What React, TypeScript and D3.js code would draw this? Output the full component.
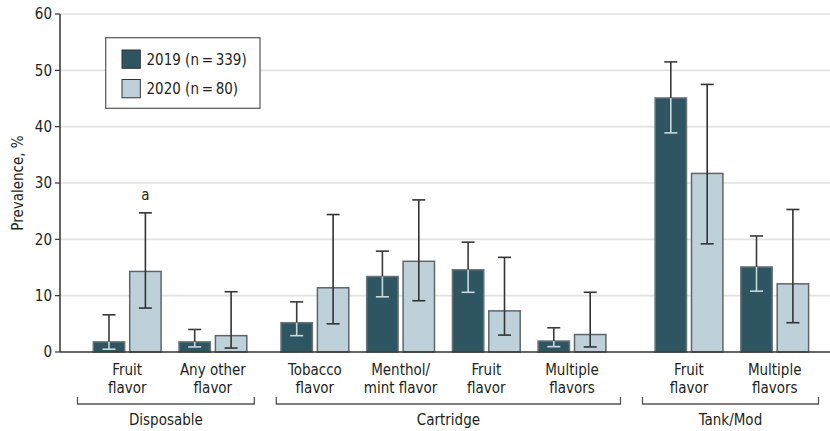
import React from "react";
import * as d3 from "d3";

// ---- Data ----
const types = ["Disposable", "Cartridge", "Tank/Mod"];
const categories = [
  ["Fruit", "flavor"],
  ["Any other", "flavor"],
  ["Tobacco", "flavor"],
  ["Menthol/", "mint flavor"],
  ["Fruit", "flavor"],
  ["Multiple", "flavors"],
  ["Fruit", "flavor"],
  ["Multiple", "flavors"],
];
const categoryType = [0, 0, 1, 1, 1, 1, 2, 2];
const series = ["2019 (n\u2009=\u2009339)", "2020 (n\u2009=\u200980)"];
const values2019 = [1.8, 1.8, 5.2, 13.4, 14.6, 1.95, 45.1, 15.1];
const lower2019 = [0.5, 0.9, 2.9, 9.8, 10.6, 0.95, 38.9, 10.8];
const upper2019 = [6.6, 4.0, 8.9, 17.9, 19.5, 4.3, 51.5, 20.6];
const values2020 = [14.3, 2.9, 11.4, 16.1, 7.3, 3.1, 31.7, 12.1];
const lower2020 = [7.8, 0.7, 5.0, 9.1, 3.0, 0.9, 19.2, 5.2];
const upper2020 = [24.7, 10.7, 24.4, 27.0, 16.8, 10.6, 47.5, 25.3];
const annotations = [null, null, null, null, null, null, null, null];
const annotations2020 = ["a", null, null, null, null, null, null, null];
const yTicks = [0, 10, 20, 30, 40, 50, 60];

// ---- Layout ----
const W = 830;
const H = 431;
const axisX = 60;
const yTop = 14;
const yBottom = 352;
const firstGroupX = 93.3;
const groupStep = 85.7;
const typeGapExtra = [0, 16.3, 47.6];
const typeRanges = [
  [66.5, 265.3],
  [265.3, 631.5],
  [631.5, 829.5],
];
const barW = 31.4;
const barGap = 5;
const capW = 13;

const DARK = "#2e5562";
const LIGHT = "#bed1da";
const FONT = "'DejaVu Sans Condensed', 'DejaVu Sans', sans-serif";
const TEXT = "#231f20";
const FS = 15;

export default function App() {
  const y = d3.scaleLinear().domain([0, 60]).range([yBottom, yTop]);
  const xIdx = d3
    .scaleLinear()
    .domain([0, 1])
    .range([firstGroupX, firstGroupX + groupStep]);
  const groupX = (i: number) => xIdx(i) + typeGapExtra[categoryType[i]];

  const seriesData = [
    { vals: values2019, lo: lower2019, hi: upper2019, fill: DARK, stroke: "#6b7478", ann: annotations },
    { vals: values2020, lo: lower2020, hi: upper2020, fill: LIGHT, stroke: "#5f6568", ann: annotations2020 },
  ];

  return (
    <svg
      width={W}
      height={H}
      style={{ display: "block", position: "absolute", left: 0, top: 0, fontStretch: "condensed" }}
      fontFamily={FONT}
    >
      <rect x={0} y={0} width={W} height={H} fill="#fff" />
      {/* gridlines */}
      {yTicks.filter((t) => t > 0).map((t) => (
        <line key={"g" + t} x1={axisX} x2={W} y1={y(t)} y2={y(t)} stroke="#e2e2e2" strokeWidth={1.6} />
      ))}
      {/* y ticks and labels */}
      {yTicks.map((t) => (
        <g key={"t" + t}>
          <line x1={axisX - 5} x2={axisX} y1={y(t)} y2={y(t)} stroke="#333" strokeWidth={1.2} />
          <text x={52} y={y(t)} dy="0.36em" textAnchor="end" fontSize={FS} fill={TEXT}>
            {t}
          </text>
        </g>
      ))}
      <text
        transform={`translate(23, ${(yTop + yBottom) / 2}) rotate(-90)`}
        textAnchor="middle"
        fontSize={FS}
        fill={TEXT}
      >
        Prevalence, %
      </text>

      {/* bars */}
      {categories.map((c, i) => (
        <g key={"c" + i}>
          {seriesData.map((s, si) => {
            const bx = groupX(i) + si * (barW + barGap);
            const cx = bx + barW / 2;
            const top = y(s.vals[i]);
            const hiY = y(s.hi[i]);
            const loY = y(s.lo[i]);
            return (
              <g key={"b" + si}>
                <rect x={bx} y={top} width={barW} height={yBottom - top} fill={s.fill} stroke={s.stroke} strokeWidth={1.5} />
                {si === 0 ? (
                  <>
                    <line x1={cx} x2={cx} y1={hiY} y2={top} stroke="#3a3a3a" strokeWidth={1.6} />
                    <line x1={cx - capW / 2} x2={cx + capW / 2} y1={hiY} y2={hiY} stroke="#3a3a3a" strokeWidth={1.6} />
                    <line x1={cx} x2={cx} y1={top} y2={loY} stroke="#c9d8de" strokeWidth={1.6} />
                    <line x1={cx - capW / 2} x2={cx + capW / 2} y1={loY} y2={loY} stroke="#c9d8de" strokeWidth={1.6} />
                  </>
                ) : (
                  <>
                    <line x1={cx} x2={cx} y1={hiY} y2={loY} stroke="#333" strokeWidth={1.6} />
                    <line x1={cx - capW / 2} x2={cx + capW / 2} y1={hiY} y2={hiY} stroke="#333" strokeWidth={1.6} />
                    <line x1={cx - capW / 2} x2={cx + capW / 2} y1={loY} y2={loY} stroke="#333" strokeWidth={1.6} />
                  </>
                )}
                {s.ann[i] && (
                  <text x={cx} y={hiY - 13} textAnchor="middle" fontSize={FS} fill={TEXT}>
                    {s.ann[i]}
                  </text>
                )}
              </g>
            );
          })}
          <text textAnchor="middle" fontSize={FS} fill={TEXT}>
            <tspan x={groupX(i) + barW + barGap / 2} y={375}>{c[0]}</tspan>
            <tspan x={groupX(i) + barW + barGap / 2} y={393}>{c[1]}</tspan>
          </text>
        </g>
      ))}

      {/* axes lines */}
      <line x1={axisX} x2={axisX} y1={yTop} y2={yBottom} stroke="#333" strokeWidth={1.5} />
      <line x1={axisX} x2={W} y1={yBottom} y2={yBottom} stroke="#333" strokeWidth={1.5} />

      {/* type brackets */}
      {types.map((t, ti) => {
        const x1 = typeRanges[ti][0] + 11;
        const x2 = typeRanges[ti][1] - 11;
        return (
          <g key={"ty" + ti}>
            <path d={`M${x1},397 V404 H${x2} V397`} fill="none" stroke="#555" strokeWidth={1.3} />
            <text x={(x1 + x2) / 2} y={425} textAnchor="middle" fontSize={FS} fill={TEXT}>
              {t}
            </text>
          </g>
        );
      })}

      {/* legend */}
      <rect x={105.7} y={37.7} width={154.3} height={70.6} fill="#fff" stroke="#555" strokeWidth={1.2} />
      {series.map((s, si) => (
        <g key={"l" + si}>
          <rect x={122} y={50 + si * 29.5} width={18.3} height={18.3} fill={seriesData[si].fill} stroke="#333" strokeWidth={1} />
          <text x={146.5} y={59.2 + si * 29.5} dy="0.36em" fontSize={FS} fill={TEXT}>
            {s}
          </text>
        </g>
      ))}
    </svg>
  );
}
